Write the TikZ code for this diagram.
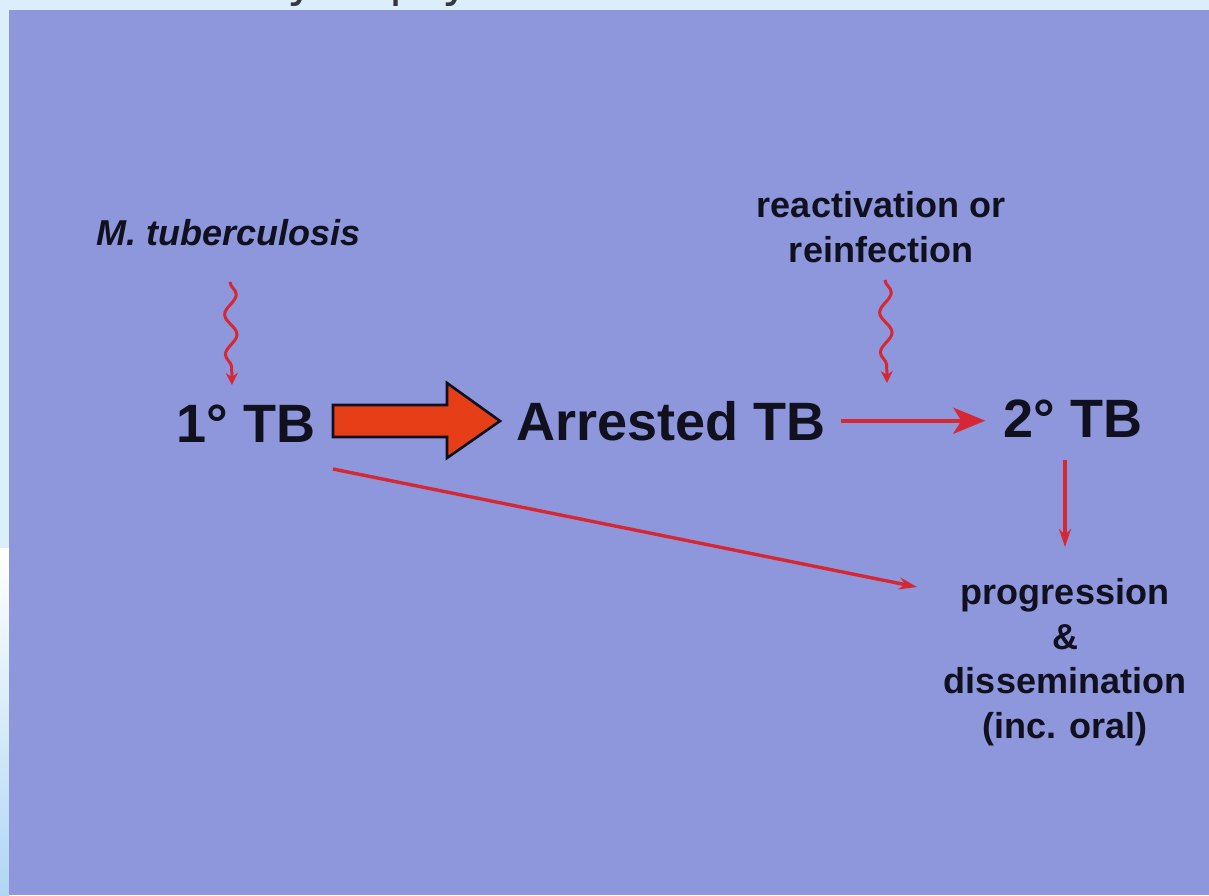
\documentclass[tikz,border=0pt]{standalone}
\usepackage{fontspec}
\setmainfont{Liberation Sans}
\newfontfamily\titlefont{DejaVu Sans}
\usetikzlibrary{decorations.pathmorphing,arrows.meta}
\definecolor{bgphoto}{RGB}{142,151,219}
\definecolor{slideblue}{RGB}{218,238,252}
\definecolor{stripblue}{RGB}{176,214,244}
\definecolor{linered}{RGB}{214,40,52}
\definecolor{bigred}{RGB}{230,62,22}
\definecolor{ink}{RGB}{16,16,30}
\definecolor{titlegray}{RGB}{55,55,60}
\begin{document}
\begin{tikzpicture}[x=0.5pt,y=-0.5pt,
  big/.style={font=\fontsize{27}{32}\selectfont\bfseries, text=ink, inner sep=0pt, anchor=base},
  small/.style={font=\fontsize{18}{22.3}\selectfont\bfseries, text=ink, inner sep=0pt, align=center},
  redline/.style={draw=linered, line width=1.7pt},
  wavy/.style={draw=linered, line width=1.5pt, decorate,
    decoration={snake, amplitude=3pt, segment length=20pt, post length=4pt}},
]
\useasboundingbox (0,0) rectangle (1209,895);
% slide background
\fill[slideblue] (0,0) rectangle (1209,895);
\shade[top color=white, bottom color=stripblue] (0,548) rectangle (9,895);
% cut-off title descenders
\begin{scope}
  \clip (0,0) rectangle (1209,9);
  \node[font=\titlefont\fontsize{24}{28}\selectfont, text=titlegray, inner sep=0pt, anchor=base] (t1) at (302,-4) {y};
  \node[font=\titlefont\fontsize{24}{28}\selectfont, text=titlegray, inner sep=0pt, anchor=base] (t2) at (405,-4) {p};
  \node[font=\titlefont\fontsize{24}{28}\selectfont, text=titlegray, inner sep=0pt, anchor=base] (t3) at (457,-4) {y};
\end{scope}
% photo
\fill[bgphoto] (9,10) rectangle (1209,895);

% texts
\node[small, font=\fontsize{18}{22.3}\selectfont\bfseries\itshape, anchor=base] (mtb) at (229,245) {M. tuberculosis};
\node[big] (tb1) at (246,442) {1° TB};
\node[big] (arr) at (671,440) {Arrested TB};
\node[big] (tb2) at (1073,437) {2° TB};
\node[small, anchor=north] (react) at (881,191) {reactivation or\\reinfection};
\node[small, anchor=north] (prog) at (1065,578) {progression\\\&\\dissemination\\(inc. oral)};

% wavy arrows
\coordinate (w1a) at (230,282);
\coordinate (w1b) at (232,385);
\draw[wavy, -{Stealth[length=6pt,width=6pt]}] (w1a) -- (w1b);
\coordinate (w2a) at (885,280);
\coordinate (w2b) at (887,383);
\draw[wavy, -{Stealth[length=6pt,width=6pt]}] (w2a) -- (w2b);

% big arrow 1 -> arrested
\draw[fill=bigred, draw=ink, line width=1.3pt, line join=miter]
  (333,405) -- (447,405) -- (447,383) -- (500,421) -- (447,458) -- (447,437) -- (333,437) -- cycle;

% arrested -> 2
\draw[redline, line width=2pt, shorten <=7.5pt, shorten >=9pt, -{Stealth[length=16pt,width=13pt,inset=4pt]}]
  (arr.east) -- (arr.east -| tb2.west);

% 2 -> progression
\draw[redline, shorten <=11.5pt, shorten >=15.5pt, -{Stealth[length=9pt,width=6pt]}]
  (tb2.south -| prog.north) -- (prog.north);

% 1 -> progression (diagonal)
\coordinate (d1) at (333,469);
\coordinate (d2) at (917,587);
\draw[redline, -{Stealth[length=9pt,width=6pt]}] (d1) -- (d2);
\end{tikzpicture}
\end{document}
